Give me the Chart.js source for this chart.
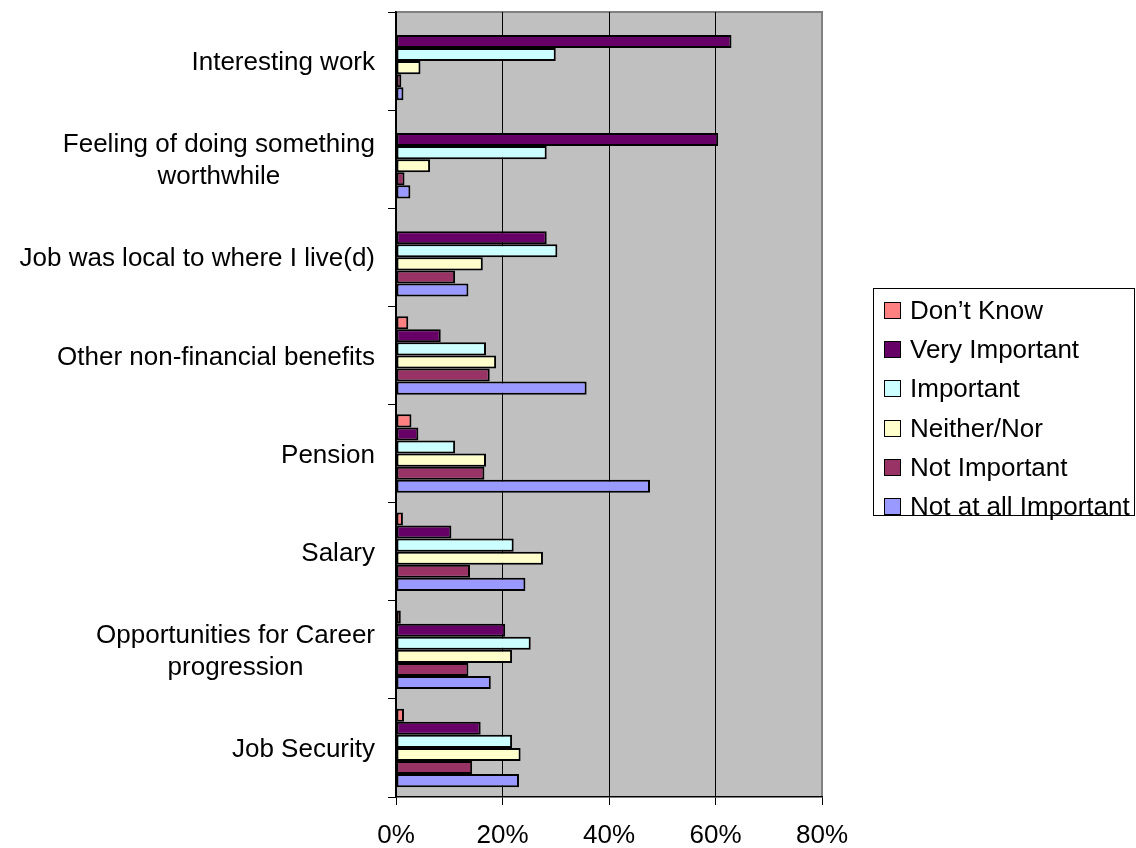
<!DOCTYPE html>
<html>
<head>
<meta charset="utf-8">
<title>Job factors</title>
<script src="https://cdn.jsdelivr.net/npm/chart.js@4.4.1/dist/chart.umd.min.js"></script>
<style>
  html, body { margin: 0; padding: 0; background: #fff; }
  .wrap { position: relative; width: 1136px; height: 848px; }
  .legend {
    position: absolute; left: 873px; top: 288px; width: 262px; height: 228px;
    box-sizing: border-box; border: 1px solid #000; background: #fff;
    font: 26px "Liberation Sans", Arial, sans-serif; color: #000;
    padding-top: 2px;
  }
  .legend-row { display: flex; align-items: center; height: 39.2px; white-space: nowrap; }
  .legend-swatch { width: 15px; height: 15px; border: 1px solid #000; margin: 0 9px 0 10px; flex: none; }
</style>
</head>
<body>
<div class="wrap">
  <canvas id="chart" width="1136" height="848"></canvas>
  <div class="legend" id="legend"></div>
</div>
<script>
// categories, top to bottom
const categories = [
  'Interesting work',
  ['Feeling of doing something', 'worthwhile'],
  'Job was local to where I live(d)',
  'Other non-financial benefits',
  'Pension',
  'Salary',
  ['Opportunities for Career', 'progression'],
  'Job Security'
];

const seriesNames = ['Don’t Know', 'Very Important', 'Important', 'Neither/Nor', 'Not Important', 'Not at all Important'];

// percentages per category
const dontKnow      = [0, 0, 0, 2.3, 2.9, 1.3, 0.9, 1.5];
const veryImportant = [63.0, 60.5, 28.3, 8.4, 4.2, 10.4, 20.5, 15.9];
const important     = [30.0, 28.3, 30.3, 16.9, 11.1, 22.1, 25.3, 21.8];
const neitherNor    = [4.6, 6.4, 16.3, 18.8, 16.9, 27.6, 21.8, 23.4];
const notImportant  = [1.0, 1.6, 11.1, 17.6, 16.6, 13.9, 13.6, 14.3];
const notAtAll      = [1.4, 2.7, 13.6, 35.8, 47.7, 24.3, 17.8, 23.1];

const xTicks = [0, 20, 40, 60, 80];

const seriesValues = [dontKnow, veryImportant, important, neitherNor, notImportant, notAtAll];
const seriesColors = ['#FF8080', '#660066', '#CCFFFF', '#FFFFCC', '#993366', '#9999FF'];

const FONT = '"Liberation Sans", Arial, sans-serif';
Chart.defaults.font.family = FONT;
Chart.defaults.color = '#000';

// grey plot background with the light frame on top and right
const plotFrame = {
  id: 'plotFrame',
  beforeDraw(chart) {
    const { ctx, chartArea: a } = chart;
    ctx.save();
    ctx.fillStyle = '#C0C0C0';
    ctx.fillRect(a.left, a.top, a.right - a.left, a.bottom - a.top);
    ctx.strokeStyle = '#808080';
    ctx.lineWidth = 2;
    ctx.beginPath();
    ctx.moveTo(a.left, a.top);
    ctx.lineTo(a.right, a.top);
    ctx.lineTo(a.right, a.bottom);
    ctx.stroke();
    ctx.restore();
  }
};

// category labels: block right-aligned to the axis, wrapped lines centred in the block
const categoryLabels = {
  id: 'categoryLabels',
  afterDraw(chart) {
    const { ctx } = chart;
    const y = chart.scales.y;
    const right = y.right - 8 - 13;
    const lh = 32;
    ctx.save();
    ctx.font = '26px ' + FONT;
    ctx.fillStyle = '#000';
    ctx.textAlign = 'center';
    ctx.textBaseline = 'middle';
    categories.forEach((label, i) => {
      const lines = Array.isArray(label) ? label : [label];
      const w = Math.max(...lines.map(l => ctx.measureText(l).width));
      const cx = right - w / 2;
      const cy = y.getPixelForTick(i) + 2 - (lines.length - 1) * lh / 2;
      lines.forEach((l, k) => ctx.fillText(l, cx, cy + k * lh));
    });
    ctx.restore();
  }
};

new Chart(document.getElementById('chart'), {
  type: 'bar',
  data: {
    labels: categories,
    datasets: seriesNames.map((name, i) => ({
      label: name,
      data: seriesValues[i],
      backgroundColor: seriesColors[i],
      borderColor: '#000',
      borderWidth: 2,
      borderSkipped: false,
      categoryPercentage: 0.8,
      barPercentage: 1.0
    }))
  },
  options: {
    indexAxis: 'y',
    responsive: false,
    animation: false,
    devicePixelRatio: 1,
    layout: { padding: { top: 12, right: 314, bottom: 0, left: 0 } },
    plugins: { legend: { display: false }, tooltip: { enabled: false } },
    scales: {
      x: {
        min: 0, max: 80,
        afterBuildTicks: s => { s.ticks = xTicks.map(v => ({ value: v })); },
        afterFit: s => { s.height = 51; s.paddingLeft = 0; s.paddingRight = 0; },
        ticks: { callback: v => v + '%', font: { size: 26 }, padding: 15, maxRotation: 0 },
        grid: {
          color: c => (c.tick && c.tick.value === 80) ? 'rgba(0,0,0,0)' : '#000',
          lineWidth: 1,
          tickColor: '#000',
          tickLength: 8
        },
        border: { color: '#000', width: 1.5 }
      },
      y: {
        afterFit: s => { s.width = 396; s.paddingTop = 0; s.paddingBottom = 0; },
        // labels are painted by categoryLabels
        ticks: { font: { size: 26, lineHeight: 1.2 }, padding: 13, color: 'rgba(0,0,0,0)' },
        grid: { drawOnChartArea: false, tickColor: '#000', tickLength: 8 },
        border: { color: '#000', width: 1.5 }
      }
    }
  },
  plugins: [plotFrame, categoryLabels]
});

// legend box
const legend = document.getElementById('legend');
legend.innerHTML = seriesNames.map((name, i) => `
  <div class="legend-row">
    <span class="legend-swatch" style="background:${seriesColors[i]}"></span>
    <span>${name}</span>
  </div>`).join('');
</script>
</body>
</html>
